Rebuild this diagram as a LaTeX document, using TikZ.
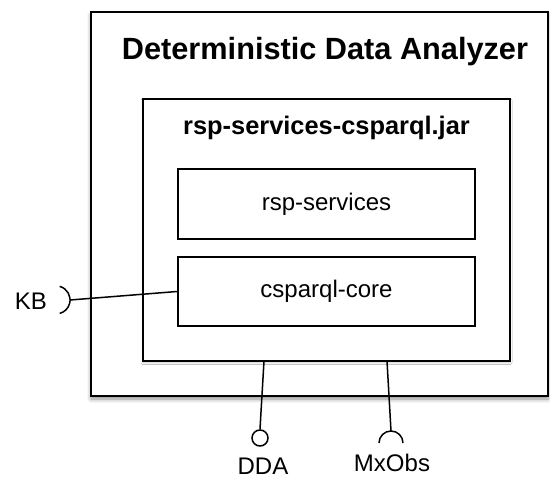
\documentclass[tikz,border=0pt]{standalone}
\usepackage{fontspec}
\setmainfont{Liberation Sans}
\usepackage{tikz}
\usetikzlibrary{positioning, shadows.blur}

\begin{document}
\begin{tikzpicture}[
    x=1pt, y=-1pt,
    outerbox/.style={rectangle, draw, line width=2.2pt, fill=white, inner sep=0pt, blur shadow={shadow xshift=0pt, shadow yshift=-3pt, shadow blur radius=4pt, shadow opacity=45}},
    jarbox/.style={rectangle, draw, line width=1.8pt, fill=white, inner sep=0pt, blur shadow={shadow xshift=0pt, shadow yshift=-1.5pt, shadow blur radius=2pt, shadow opacity=25}},
    modbox/.style={rectangle, draw, line width=1.8pt, fill=white, inner sep=0pt, minimum width=297pt, font=\fontsize{24}{28}\selectfont},
    wire/.style={line width=1.5pt},
    portlabel/.style={font=\fontsize{24}{28}\selectfont, inner sep=0pt, text depth=0pt},
]
\useasboundingbox (0,0) rectangle (550,479);

\node[outerbox, minimum width=457pt, minimum height=384pt] (dda) at (319.5, 204) {};
\node[font=\fontsize{30.7}{36}\selectfont\bfseries, inner sep=0pt] (ddatitle) at (325, 52) {Deterministic Data Analyzer};

\node[jarbox, minimum width=367pt, minimum height=262pt] (jar) at (326.5, 230) {};
\node[font=\fontsize{25.4}{30}\selectfont\bfseries, inner sep=0pt] (jartitle) at (326.5, 128) {rsp-services-csparql.jar};

\node[modbox, minimum height=70pt] (services) at (326.5, 204) {rsp-services};
\node[modbox, minimum height=69pt] (core) at (326.5, 291.5) {csparql-core};

% required interface KB
\node[portlabel] (kb) at (31, 301) {KB};
\coordinate (kbport) at (70, 300);
\draw[wire] (kbport) ++(-10.3, -13.6) arc[start angle=-75, end angle=75, radius=14];
\draw[wire] (kbport) -- (core.west);

% provided interface DDA
\node[circle, draw, line width=1.5pt, minimum size=16pt, inner sep=0pt] (ddaport) at (260, 438) {};
\draw[wire] (264, 361) -- (ddaport.north);
\node[portlabel, anchor=base] (ddalabel) at (263, 474) {DDA};

% required interface MxObs
\coordinate (mxport) at (391, 431);
\draw[wire] (387, 361) -- (mxport);
\draw[wire] (mxport) ++(-12, 12) arc[start angle=180, end angle=360, radius=12];
\node[portlabel, anchor=base] (mxlabel) at (392, 471) {MxObs};

\end{tikzpicture}
\end{document}
